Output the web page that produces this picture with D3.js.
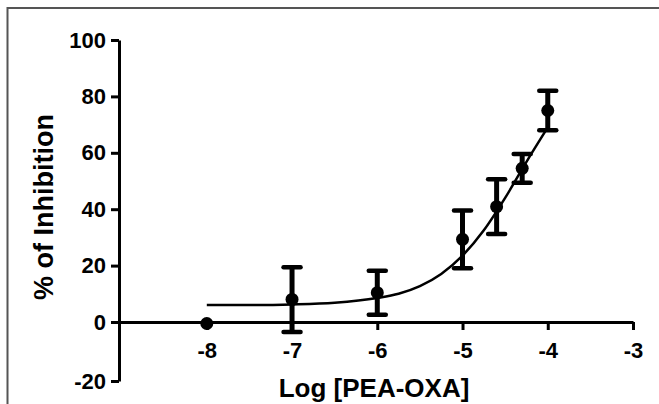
<!DOCTYPE html>
<html>
<head>
<meta charset="utf-8">
<script src="https://cdn.jsdelivr.net/npm/d3@7"></script>
<style>
  body { margin: 0; background: #fff; }
  svg text { font-family: "Liberation Sans", Arial, sans-serif; font-weight: bold; fill: #000; }
</style>
</head>
<body>
<div id="chart"></div>
<script>
// dose-response data
const logConc = [-8, -7, -6, -5, -4.6, -4.3, -4];
const inhibition = [-0.5, 8, 10.4, 29.3, 40.9, 54.5, 75];
const sem = [0, 11.4, 7.8, 10.2, 9.7, 5.1, 7.0];

// fitted curve, sampled by eye
const fitX = [-8, -7.5, -7, -6.5, -6, -5.75, -5.5, -5.25, -5, -4.75, -4.5, -4.25, -4];
const fitY = [6, 6, 6.2, 6.8, 8.5, 10, 12.7, 17, 23.5, 32.5, 44, 56.8, 69];

const xTicks = [-8, -7, -6, -5, -4, -3];
const yTicks = [-20, 0, 20, 40, 60, 80, 100];

const width = 659, height = 404;

const svg = d3.select("#chart").append("svg")
    .attr("width", width)
    .attr("height", height);

// outer frame (only top and left edges show in the picture)
svg.append("rect")
    .attr("x", 7.5).attr("y", 8)
    .attr("width", 700).attr("height", 500)
    .attr("fill", "none")
    .attr("stroke", "#555")
    .attr("stroke-width", 2);

let x = d3.scaleLinear()
    .domain([-9.03, -3])
    .range([119, 633]);

// -20 tick sits a little lower than the rest in the original
let y = d3.scaleLinear()
    .domain([-20, 0, 100])
    .range([381, 322, 40]);

// x axis sits on y = 0
let xAxis = svg.append("g")
    .attr("transform", "translate(0," + y(0) + ")")
    .call(d3.axisBottom(x)
        .tickValues(xTicks)
        .tickSize(8)
        .tickSizeOuter(0)
        .tickPadding(12)
        .tickFormat(d3.format("d")));

let yAxis = svg.append("g")
    .attr("transform", "translate(" + x(-9.03) + ",0)")
    .call(d3.axisLeft(y)
        .tickValues(yTicks)
        .tickSize(8)
        .tickSizeOuter(0)
        .tickPadding(5));

[xAxis, yAxis].forEach(g => {
    g.select(".domain").attr("stroke", "#000").attr("stroke-width", 3);
    g.selectAll(".tick line").attr("stroke", "#000").attr("stroke-width", 3);
    g.selectAll(".tick text").attr("font-size", 22).style("font-family", "'Liberation Sans', Arial, sans-serif").style("font-weight", "bold");
});
xAxis.selectAll(".tick text").text(d => "-" + Math.abs(d));
yAxis.selectAll(".tick text").text(d => d < 0 ? "-" + Math.abs(d) : d);

// fitted curve
let line = d3.line()
    .x(d => x(d[0]))
    .y(d => y(d[1]))
    .curve(d3.curveMonotoneX);

svg.append("path")
    .datum(fitX.map((v, i) => [v, fitY[i]]))
    .attr("d", line)
    .attr("fill", "none")
    .attr("stroke", "#000")
    .attr("stroke-width", 2.5);

// error bars
let pts = logConc.map((v, i) => ({ x: v, y: inhibition[i], e: sem[i] }));
let bars = svg.append("g").selectAll("g")
    .data(pts.filter(d => d.e > 0))
    .enter().append("g");

bars.append("line")
    .attr("x1", d => x(d.x)).attr("x2", d => x(d.x))
    .attr("y1", d => y(d.y - d.e)).attr("y2", d => y(d.y + d.e))
    .attr("stroke", "#000").attr("stroke-width", 5);

[-1, 1].forEach(s => {
    bars.append("line")
        .attr("x1", d => x(d.x) - 8.5).attr("x2", d => x(d.x) + 8.5)
        .attr("y1", d => y(d.y + s * d.e)).attr("y2", d => y(d.y + s * d.e))
        .attr("stroke", "#000").attr("stroke-width", 4.5)
        .attr("stroke-linecap", "round");
});

// markers
svg.append("g").selectAll("circle")
    .data(pts)
    .enter().append("circle")
    .attr("cx", d => x(d.x))
    .attr("cy", d => y(d.y))
    .attr("r", 6.5)
    .attr("fill", "#000");

// axis titles
svg.append("text")
    .attr("x", 374)
    .attr("y", 397)
    .attr("text-anchor", "middle")
    .attr("font-size", 26)
    .text("Log [PEA-OXA]");

svg.append("text")
    .attr("transform", "translate(53,207) rotate(-90)")
    .attr("text-anchor", "middle")
    .attr("font-size", 27)
    .text("% of Inhibition");
</script>
</body>
</html>
